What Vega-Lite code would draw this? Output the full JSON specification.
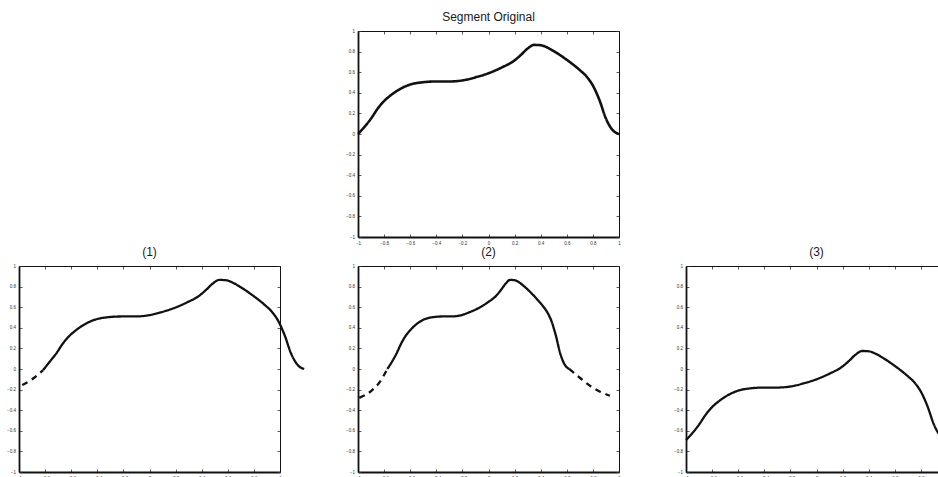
{
  "$schema": "https://vega.github.io/schema/vega-lite/v6.json",
  "background": "white",
  "padding": {"left": 6, "top": 11, "right": 0, "bottom": 0},
  "config": {
    "view": {"stroke": null},
    "font": "Liberation Sans",
    "axis": {"grid": false, "title": null, "labelFont": "Liberation Sans", "labelFontSize": 4.5, "labelColor": "#333", "tickColor": "#333", "tickWidth": 0.8, "tickSize": -3, "domainColor": "#111", "labelFlush": false, "labelOverlap": false, "labelPadding": 6.5},
    "title": {"font": "Liberation Sans", "fontSize": 12, "fontWeight": "normal", "color": "#1a1a1a", "offset": 4}
  },
  "datasets": {
    "curves": [
      {"p":"top","seg":"s","style":"solid","x":-1,"y":0},{"p":"top","seg":"s","style":"solid","x":-0.95,"y":0.07},{"p":"top","seg":"s","style":"solid","x":-0.9,"y":0.15},{"p":"top","seg":"s","style":"solid","x":-0.85,"y":0.245},{"p":"top","seg":"s","style":"solid","x":-0.8,"y":0.32},{"p":"top","seg":"s","style":"solid","x":-0.75,"y":0.375},{"p":"top","seg":"s","style":"solid","x":-0.7,"y":0.42},{"p":"top","seg":"s","style":"solid","x":-0.65,"y":0.455},{"p":"top","seg":"s","style":"solid","x":-0.6,"y":0.48},{"p":"top","seg":"s","style":"solid","x":-0.5,"y":0.503},{"p":"top","seg":"s","style":"solid","x":-0.4,"y":0.51},{"p":"top","seg":"s","style":"solid","x":-0.3,"y":0.51},{"p":"top","seg":"s","style":"solid","x":-0.2,"y":0.52},{"p":"top","seg":"s","style":"solid","x":-0.1,"y":0.55},{"p":"top","seg":"s","style":"solid","x":0,"y":0.59},{"p":"top","seg":"s","style":"solid","x":0.1,"y":0.645},{"p":"top","seg":"s","style":"solid","x":0.2,"y":0.715},{"p":"top","seg":"s","style":"solid","x":0.25,"y":0.77},{"p":"top","seg":"s","style":"solid","x":0.3,"y":0.83},{"p":"top","seg":"s","style":"solid","x":0.35,"y":0.865},{"p":"top","seg":"s","style":"solid","x":0.4,"y":0.862},{"p":"top","seg":"s","style":"solid","x":0.45,"y":0.84},{"p":"top","seg":"s","style":"solid","x":0.5,"y":0.805},{"p":"top","seg":"s","style":"solid","x":0.6,"y":0.72},{"p":"top","seg":"s","style":"solid","x":0.7,"y":0.62},{"p":"top","seg":"s","style":"solid","x":0.75,"y":0.56},{"p":"top","seg":"s","style":"solid","x":0.8,"y":0.47},{"p":"top","seg":"s","style":"solid","x":0.85,"y":0.33},{"p":"top","seg":"s","style":"solid","x":0.9,"y":0.15},{"p":"top","seg":"s","style":"solid","x":0.95,"y":0.04},{"p":"top","seg":"s","style":"solid","x":1,"y":0},

      {"p":"p1","seg":"d1","style":"dashed","x":-0.975,"y":-0.155},{"p":"p1","seg":"d1","style":"dashed","x":-0.9,"y":-0.1},{"p":"p1","seg":"d1","style":"dashed","x":-0.815,"y":-0.01},
      {"p":"p1","seg":"s","style":"solid","x":-0.815,"y":-0.01},{"p":"p1","seg":"s","style":"solid","x":-0.765,"y":0.07},{"p":"p1","seg":"s","style":"solid","x":-0.715,"y":0.15},{"p":"p1","seg":"s","style":"solid","x":-0.665,"y":0.245},{"p":"p1","seg":"s","style":"solid","x":-0.615,"y":0.32},{"p":"p1","seg":"s","style":"solid","x":-0.565,"y":0.375},{"p":"p1","seg":"s","style":"solid","x":-0.515,"y":0.42},{"p":"p1","seg":"s","style":"solid","x":-0.465,"y":0.455},{"p":"p1","seg":"s","style":"solid","x":-0.415,"y":0.48},{"p":"p1","seg":"s","style":"solid","x":-0.315,"y":0.503},{"p":"p1","seg":"s","style":"solid","x":-0.215,"y":0.51},{"p":"p1","seg":"s","style":"solid","x":-0.115,"y":0.51},{"p":"p1","seg":"s","style":"solid","x":-0.015,"y":0.52},{"p":"p1","seg":"s","style":"solid","x":0.085,"y":0.55},{"p":"p1","seg":"s","style":"solid","x":0.185,"y":0.59},{"p":"p1","seg":"s","style":"solid","x":0.285,"y":0.645},{"p":"p1","seg":"s","style":"solid","x":0.385,"y":0.715},{"p":"p1","seg":"s","style":"solid","x":0.435,"y":0.77},{"p":"p1","seg":"s","style":"solid","x":0.485,"y":0.83},{"p":"p1","seg":"s","style":"solid","x":0.535,"y":0.865},{"p":"p1","seg":"s","style":"solid","x":0.585,"y":0.862},{"p":"p1","seg":"s","style":"solid","x":0.635,"y":0.84},{"p":"p1","seg":"s","style":"solid","x":0.685,"y":0.805},{"p":"p1","seg":"s","style":"solid","x":0.785,"y":0.72},{"p":"p1","seg":"s","style":"solid","x":0.885,"y":0.62},{"p":"p1","seg":"s","style":"solid","x":0.935,"y":0.56},{"p":"p1","seg":"s","style":"solid","x":0.985,"y":0.47},{"p":"p1","seg":"s","style":"solid","x":1.035,"y":0.33},{"p":"p1","seg":"s","style":"solid","x":1.085,"y":0.15},{"p":"p1","seg":"s","style":"solid","x":1.135,"y":0.04},{"p":"p1","seg":"s","style":"solid","x":1.185,"y":0},

      {"p":"p2","seg":"d1","style":"dashed","x":-0.99,"y":-0.28},{"p":"p2","seg":"d1","style":"dashed","x":-0.9,"y":-0.215},{"p":"p2","seg":"d1","style":"dashed","x":-0.83,"y":-0.12},{"p":"p2","seg":"d1","style":"dashed","x":-0.775,"y":0},
      {"p":"p2","seg":"s","style":"solid","x":-0.775,"y":0},{"p":"p2","seg":"s","style":"solid","x":-0.74,"y":0.07},{"p":"p2","seg":"s","style":"solid","x":-0.705,"y":0.15},{"p":"p2","seg":"s","style":"solid","x":-0.67,"y":0.245},{"p":"p2","seg":"s","style":"solid","x":-0.636,"y":0.32},{"p":"p2","seg":"s","style":"solid","x":-0.601,"y":0.375},{"p":"p2","seg":"s","style":"solid","x":-0.566,"y":0.42},{"p":"p2","seg":"s","style":"solid","x":-0.531,"y":0.455},{"p":"p2","seg":"s","style":"solid","x":-0.496,"y":0.48},{"p":"p2","seg":"s","style":"solid","x":-0.427,"y":0.503},{"p":"p2","seg":"s","style":"solid","x":-0.357,"y":0.51},{"p":"p2","seg":"s","style":"solid","x":-0.287,"y":0.51},{"p":"p2","seg":"s","style":"solid","x":-0.217,"y":0.52},{"p":"p2","seg":"s","style":"solid","x":-0.148,"y":0.55},{"p":"p2","seg":"s","style":"solid","x":-0.078,"y":0.59},{"p":"p2","seg":"s","style":"solid","x":-0.008,"y":0.645},{"p":"p2","seg":"s","style":"solid","x":0.062,"y":0.715},{"p":"p2","seg":"s","style":"solid","x":0.097,"y":0.77},{"p":"p2","seg":"s","style":"solid","x":0.132,"y":0.83},{"p":"p2","seg":"s","style":"solid","x":0.166,"y":0.865},{"p":"p2","seg":"s","style":"solid","x":0.201,"y":0.862},{"p":"p2","seg":"s","style":"solid","x":0.236,"y":0.84},{"p":"p2","seg":"s","style":"solid","x":0.271,"y":0.805},{"p":"p2","seg":"s","style":"solid","x":0.341,"y":0.72},{"p":"p2","seg":"s","style":"solid","x":0.411,"y":0.62},{"p":"p2","seg":"s","style":"solid","x":0.446,"y":0.56},{"p":"p2","seg":"s","style":"solid","x":0.481,"y":0.47},{"p":"p2","seg":"s","style":"solid","x":0.515,"y":0.33},{"p":"p2","seg":"s","style":"solid","x":0.55,"y":0.15},{"p":"p2","seg":"s","style":"solid","x":0.585,"y":0.04},{"p":"p2","seg":"s","style":"solid","x":0.62,"y":0},
      {"p":"p2","seg":"d2","style":"dashed","x":0.62,"y":0},{"p":"p2","seg":"d2","style":"dashed","x":0.7,"y":-0.085},{"p":"p2","seg":"d2","style":"dashed","x":0.78,"y":-0.165},{"p":"p2","seg":"d2","style":"dashed","x":0.855,"y":-0.22},{"p":"p2","seg":"d2","style":"dashed","x":0.93,"y":-0.26},

      {"p":"p3","seg":"s","style":"solid","x":-1,"y":-0.69},{"p":"p3","seg":"s","style":"solid","x":-0.95,"y":-0.62},{"p":"p3","seg":"s","style":"solid","x":-0.9,"y":-0.54},{"p":"p3","seg":"s","style":"solid","x":-0.85,"y":-0.445},{"p":"p3","seg":"s","style":"solid","x":-0.8,"y":-0.37},{"p":"p3","seg":"s","style":"solid","x":-0.75,"y":-0.315},{"p":"p3","seg":"s","style":"solid","x":-0.7,"y":-0.27},{"p":"p3","seg":"s","style":"solid","x":-0.65,"y":-0.235},{"p":"p3","seg":"s","style":"solid","x":-0.6,"y":-0.21},{"p":"p3","seg":"s","style":"solid","x":-0.5,"y":-0.187},{"p":"p3","seg":"s","style":"solid","x":-0.4,"y":-0.18},{"p":"p3","seg":"s","style":"solid","x":-0.3,"y":-0.18},{"p":"p3","seg":"s","style":"solid","x":-0.2,"y":-0.17},{"p":"p3","seg":"s","style":"solid","x":-0.1,"y":-0.14},{"p":"p3","seg":"s","style":"solid","x":0,"y":-0.1},{"p":"p3","seg":"s","style":"solid","x":0.1,"y":-0.045},{"p":"p3","seg":"s","style":"solid","x":0.2,"y":0.025},{"p":"p3","seg":"s","style":"solid","x":0.25,"y":0.08},{"p":"p3","seg":"s","style":"solid","x":0.3,"y":0.14},{"p":"p3","seg":"s","style":"solid","x":0.35,"y":0.175},{"p":"p3","seg":"s","style":"solid","x":0.4,"y":0.172},{"p":"p3","seg":"s","style":"solid","x":0.45,"y":0.15},{"p":"p3","seg":"s","style":"solid","x":0.5,"y":0.115},{"p":"p3","seg":"s","style":"solid","x":0.6,"y":0.03},{"p":"p3","seg":"s","style":"solid","x":0.7,"y":-0.07},{"p":"p3","seg":"s","style":"solid","x":0.75,"y":-0.13},{"p":"p3","seg":"s","style":"solid","x":0.8,"y":-0.22},{"p":"p3","seg":"s","style":"solid","x":0.85,"y":-0.36},{"p":"p3","seg":"s","style":"solid","x":0.9,"y":-0.54},{"p":"p3","seg":"s","style":"solid","x":0.95,"y":-0.65},{"p":"p3","seg":"s","style":"solid","x":1,"y":-0.69}
    ],
    "empty": []
  },
  "columns": 3,
  "spacing": {"column": 67, "row": 29},
  "bounds": "flush",
  "concat": [
    {"width": 272, "height": 206, "data": {"name": "empty"}, "mark": {"type": "point", "opacity": 0}, "encoding": {}},
    {
      "width": 261, "height": 206,
      "title": "Segment Original",
      "data": {"name": "curves"},
      "transform": [{"filter": "datum.p === 'top'"}],
      "layer": [
        {"mark": {"type": "line", "color": "#111", "strokeWidth": 2.6, "interpolate": "monotone"},
         "encoding": {
           "x": {"field": "x", "type": "quantitative", "scale": {"domain": [-1, 1], "nice": false, "zero": false}, "axis": {"orient": "bottom", "values": [-1,-0.8,-0.6,-0.4,-0.2,0,0.2,0.4,0.6,0.8,1], "format": "~g", "domainWidth": 1.8}},
           "y": {"field": "y", "type": "quantitative", "scale": {"domain": [-1, 1], "nice": false, "zero": false}, "axis": {"orient": "left", "values": [-1,-0.8,-0.6,-0.4,-0.2,0,0.2,0.4,0.6,0.8,1], "format": "~g", "domainWidth": 1.8}},
           "detail": {"field": "seg"},
           "strokeDash": {"field": "style", "type": "nominal", "scale": {"domain": ["solid", "dashed"], "range": [[1, 0], [6, 5]]}, "legend": null}
         }},
        {"mark": {"type": "point", "opacity": 0},
         "encoding": {
           "x": {"field": "x", "type": "quantitative", "axis": {"orient": "top", "values": [-1,-0.8,-0.6,-0.4,-0.2,0,0.2,0.4,0.6,0.8,1], "labels": false, "domainWidth": 1}},
           "y": {"field": "y", "type": "quantitative", "axis": {"orient": "right", "values": [-1,-0.8,-0.6,-0.4,-0.2,0,0.2,0.4,0.6,0.8,1], "labels": false, "domainWidth": 1}}
         }}
      ],
      "resolve": {"axis": {"x": "independent", "y": "independent"}}
    },
    {"width": 261, "height": 206, "data": {"name": "empty"}, "mark": {"type": "point", "opacity": 0}, "encoding": {}},
    {
      "width": 261, "height": 206,
      "title": "(1)",
      "data": {"name": "curves"},
      "transform": [{"filter": "datum.p === 'p1'"}],
      "layer": [
        {"mark": {"type": "line", "color": "#111", "strokeWidth": 2.3, "interpolate": "monotone"},
         "encoding": {
           "x": {"field": "x", "type": "quantitative", "scale": {"domain": [-1, 1], "nice": false, "zero": false}, "axis": {"orient": "bottom", "values": [-1,-0.8,-0.6,-0.4,-0.2,0,0.2,0.4,0.6,0.8,1], "format": "~g", "domainWidth": 1.8}},
           "y": {"field": "y", "type": "quantitative", "scale": {"domain": [-1, 1], "nice": false, "zero": false}, "axis": {"orient": "left", "values": [-1,-0.8,-0.6,-0.4,-0.2,0,0.2,0.4,0.6,0.8,1], "format": "~g", "domainWidth": 1.8}},
           "detail": {"field": "seg"},
           "strokeDash": {"field": "style", "type": "nominal", "scale": {"domain": ["solid", "dashed"], "range": [[1, 0], [6, 5]]}, "legend": null}
         }},
        {"mark": {"type": "point", "opacity": 0},
         "encoding": {
           "x": {"field": "x", "type": "quantitative", "axis": {"orient": "top", "values": [-1,-0.8,-0.6,-0.4,-0.2,0,0.2,0.4,0.6,0.8,1], "labels": false, "domainWidth": 1}},
           "y": {"field": "y", "type": "quantitative", "axis": {"orient": "right", "values": [-1,-0.8,-0.6,-0.4,-0.2,0,0.2,0.4,0.6,0.8,1], "labels": false, "domainWidth": 1}}
         }}
      ],
      "resolve": {"axis": {"x": "independent", "y": "independent"}}
    },
    {
      "width": 261, "height": 206,
      "title": "(2)",
      "data": {"name": "curves"},
      "transform": [{"filter": "datum.p === 'p2'"}],
      "layer": [
        {"mark": {"type": "line", "color": "#111", "strokeWidth": 2.3, "interpolate": "monotone"},
         "encoding": {
           "x": {"field": "x", "type": "quantitative", "scale": {"domain": [-1, 1], "nice": false, "zero": false}, "axis": {"orient": "bottom", "values": [-1,-0.8,-0.6,-0.4,-0.2,0,0.2,0.4,0.6,0.8,1], "format": "~g", "domainWidth": 1.8}},
           "y": {"field": "y", "type": "quantitative", "scale": {"domain": [-1, 1], "nice": false, "zero": false}, "axis": {"orient": "left", "values": [-1,-0.8,-0.6,-0.4,-0.2,0,0.2,0.4,0.6,0.8,1], "format": "~g", "domainWidth": 1.8}},
           "detail": {"field": "seg"},
           "strokeDash": {"field": "style", "type": "nominal", "scale": {"domain": ["solid", "dashed"], "range": [[1, 0], [6, 5]]}, "legend": null}
         }},
        {"mark": {"type": "point", "opacity": 0},
         "encoding": {
           "x": {"field": "x", "type": "quantitative", "axis": {"orient": "top", "values": [-1,-0.8,-0.6,-0.4,-0.2,0,0.2,0.4,0.6,0.8,1], "labels": false, "domainWidth": 1}},
           "y": {"field": "y", "type": "quantitative", "axis": {"orient": "right", "values": [-1,-0.8,-0.6,-0.4,-0.2,0,0.2,0.4,0.6,0.8,1], "labels": false, "domainWidth": 1}}
         }}
      ],
      "resolve": {"axis": {"x": "independent", "y": "independent"}}
    },
    {
      "width": 261, "height": 206,
      "title": "(3)",
      "data": {"name": "curves"},
      "transform": [{"filter": "datum.p === 'p3'"}],
      "layer": [
        {"mark": {"type": "line", "color": "#111", "strokeWidth": 2.3, "interpolate": "monotone"},
         "encoding": {
           "x": {"field": "x", "type": "quantitative", "scale": {"domain": [-1, 1], "nice": false, "zero": false}, "axis": {"orient": "bottom", "values": [-1,-0.8,-0.6,-0.4,-0.2,0,0.2,0.4,0.6,0.8,1], "format": "~g", "domainWidth": 1.8}},
           "y": {"field": "y", "type": "quantitative", "scale": {"domain": [-1, 1], "nice": false, "zero": false}, "axis": {"orient": "left", "values": [-1,-0.8,-0.6,-0.4,-0.2,0,0.2,0.4,0.6,0.8,1], "format": "~g", "domainWidth": 1.8}},
           "detail": {"field": "seg"},
           "strokeDash": {"field": "style", "type": "nominal", "scale": {"domain": ["solid", "dashed"], "range": [[1, 0], [6, 5]]}, "legend": null}
         }},
        {"mark": {"type": "point", "opacity": 0},
         "encoding": {
           "x": {"field": "x", "type": "quantitative", "axis": {"orient": "top", "values": [-1,-0.8,-0.6,-0.4,-0.2,0,0.2,0.4,0.6,0.8,1], "labels": false, "domainWidth": 1}},
           "y": {"field": "y", "type": "quantitative", "axis": {"orient": "right", "values": [-1,-0.8,-0.6,-0.4,-0.2,0,0.2,0.4,0.6,0.8,1], "labels": false, "domainWidth": 1}}
         }}
      ],
      "resolve": {"axis": {"x": "independent", "y": "independent"}}
    }
  ]
}
